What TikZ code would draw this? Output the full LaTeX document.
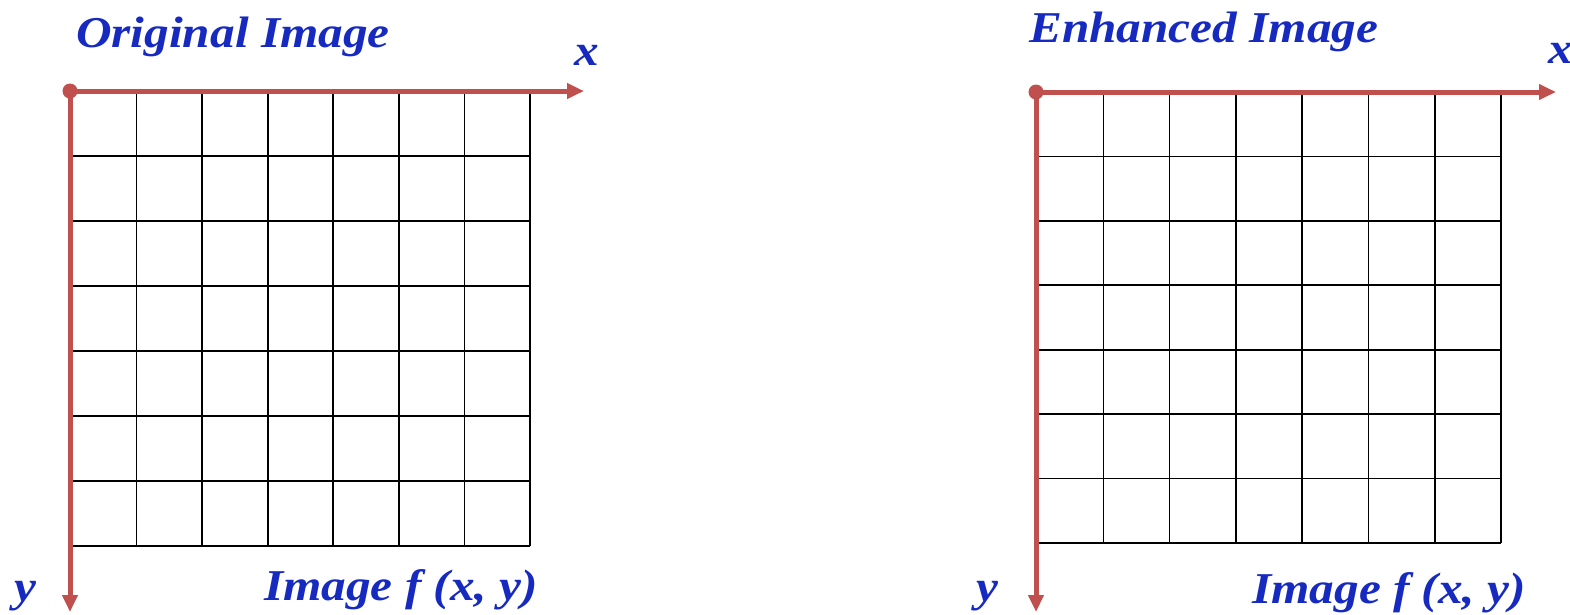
\documentclass[tikz,border=0pt]{standalone}
\usepackage{fontspec}
\newfontfamily\lblfont[FakeStretch=1.12]{Liberation Serif}
\usetikzlibrary{arrows.meta}
\definecolor{axisred}{RGB}{192,80,77}
\definecolor{lblblue}{RGB}{22,42,192}
\tikzset{
  lbl/.style={inner sep=0pt, anchor=base west, text=lblblue, font=\lblfont\fontsize{44}{50}\selectfont\bfseries\itshape},
  axisline/.style={draw=axisred, line width=5pt, -{Triangle[length=17pt,width=15pt]}},
  gridline/.style={draw=black, line width=1.6pt},
}
\begin{document}
\begin{tikzpicture}[x=1pt,y=-1pt]
\useasboundingbox (0,0) rectangle (1570,614);
% ---------- left grid ----------
\foreach \i in {0,...,7} {
  \draw[gridline] ({71+\i*65.57},91) -- ({71+\i*65.57},546);
  \draw[gridline] (71,{91+\i*65}) -- (530,{91+\i*65});
}
% ---------- right grid ----------
\foreach \i in {0,...,7} {
  \draw[gridline] ({1037+\i*66.29},92) -- ({1037+\i*66.29},543);
  \draw[gridline] (1037,{92+\i*64.43}) -- (1501,{92+\i*64.43});
}
% ---------- left axes ----------
\coordinate (o1) at (70,91);
\coordinate (x1) at (584,91);
\coordinate (y1) at (70,612);
\draw[axisline] (o1) -- (x1);
\draw[axisline] (o1) -- (y1);
\fill[axisred] (o1) circle (7.5);
% ---------- right axes ----------
\coordinate (o2) at (1036,92);
\coordinate (x2) at (1556,92);
\coordinate (y2) at (1036,612);
\draw[axisline] (o2) -- (x2);
\draw[axisline] (o2) -- (y2);
\fill[axisred] (o2) circle (7.5);
% ---------- labels ----------
\node[lbl] (t1) at (76,47) {Original Image};
\node[lbl] (xl1) at (574,65) {x};
\node[lbl] (yl1) at (14,601) {y};
\node[lbl] (f1) at (264,600) {Image f (x, y)};
\node[lbl] (t2) at (1029,42) {Enhanced Image};
\node[lbl] (xl2) at (1548,63) {x};
\node[lbl] (yl2) at (976,601) {y};
\node[lbl] (f2) at (1252,603) {Image f (x, y)};
\end{tikzpicture}
\end{document}
